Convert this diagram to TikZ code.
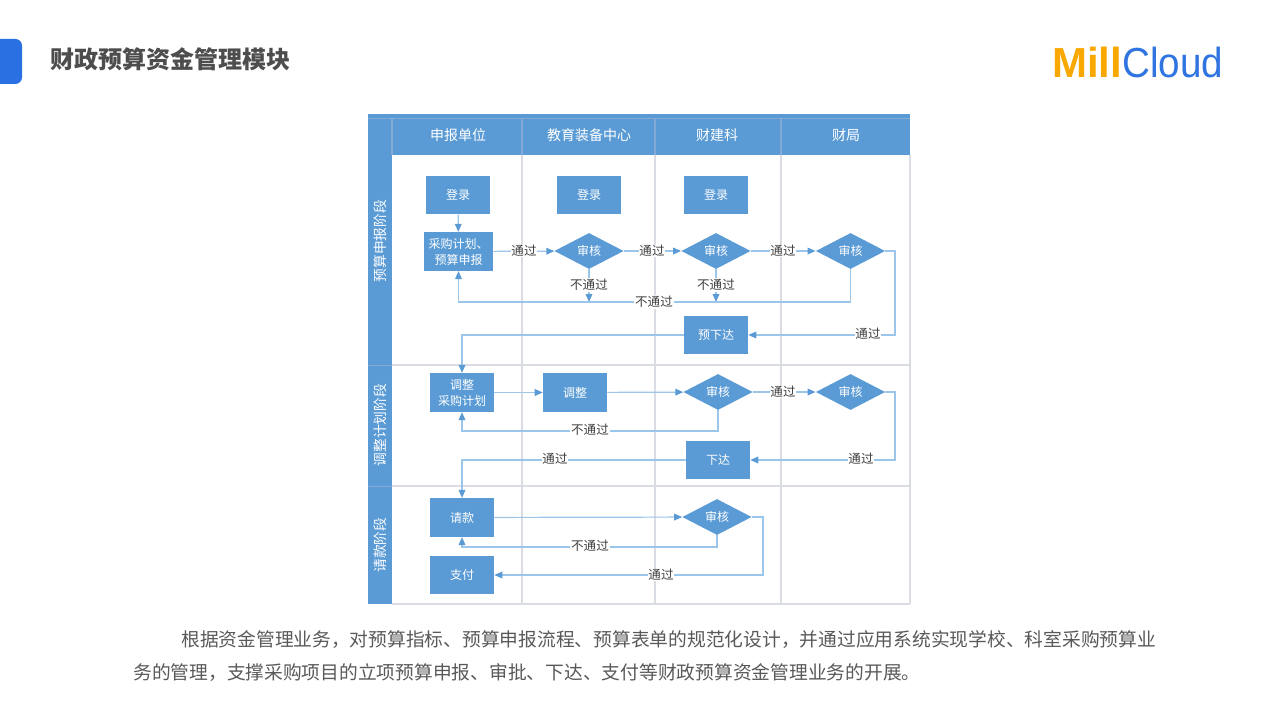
\documentclass[tikz,border=0pt]{standalone}
\usepackage{fontspec}
\setmainfont{Noto Sans CJK SC}
\newfontfamily\logofont{Liberation Sans}
\usetikzlibrary{arrows.meta,shapes.geometric}
\definecolor{mainblue}{HTML}{5B9BD5}
\definecolor{linkblue}{HTML}{9CC5EA}
\definecolor{gridgray}{HTML}{D9DDE3}
\definecolor{headsep}{HTML}{82AAD4}
\definecolor{tabblue}{HTML}{2A70E2}
\definecolor{titlegray}{HTML}{4D4D4D}
\definecolor{bodygray}{HTML}{595959}
\definecolor{logoorange}{HTML}{F8A800}
\definecolor{logoblue}{HTML}{2F74E0}
\tikzset{
  boxnode/.style={draw=none,fill=mainblue,text=white,minimum width=48pt,minimum height=29pt,inner sep=0pt,font=\fontsize{9pt}{12pt}\selectfont,align=center},
  dianode/.style={diamond,aspect=1.9,draw=none,fill=mainblue,text=white,minimum width=52pt,minimum height=27pt,inner sep=0pt,font=\fontsize{9pt}{11pt}\selectfont},
  flow/.style={draw=linkblue,line width=0.9pt,-{Triangle[length=6pt,width=5pt,color=mainblue]}},
  lab/.style={fill=white,text=black!75,inner sep=0.6pt,font=\fontsize{9.4pt}{11pt}\selectfont},
  head/.style={text=white,font=\fontsize{10.5pt}{12pt}\selectfont},
  rowhead/.style={text=white,rotate=90,font=\fontsize{10.3pt}{12pt}\selectfont},
  grid line/.style={draw=gridgray,line width=1.1pt},
  grid rule/.style={draw=gridgray,line width=0.8pt},
  body/.style={anchor=west,text=bodygray,inner sep=0pt,font=\fontsize{14.06pt}{18pt}\selectfont}
}
\begin{document}
\begin{tikzpicture}[x=0.75pt,y=-0.75pt]
\useasboundingbox (0,0) rectangle (1280,720);
\fill[white] (0,0) rectangle (1280,720);
% tab, title, logo
\fill[tabblue] (-10,39) [rounded corners=5pt] -- (-10,84) -- (22,84) -- (22,39) -- cycle;
\node[anchor=west,inner sep=0pt,text=titlegray,font=\fontsize{18pt}{22pt}\selectfont\bfseries] (title) at (50,59) {财政预算资金管理模块};
\node[anchor=west,inner sep=0pt,text=logoorange,font=\logofont\fontsize{31.5pt}{34pt}\selectfont\bfseries] (logoa) at (1052,62) {Mill};
\node[anchor=west,inner sep=0pt,text=logoblue,xscale=0.92,font=\logofont\fontsize{31.5pt}{34pt}\selectfont] (logob) at (1122,62) {Cloud};
% swimlane frame
\fill[mainblue] (392,114) rectangle (910,155);
\fill[mainblue] (368,114) rectangle (392,604);
\draw[headsep,line width=0.7pt] (368,118) -- (910,118);
\foreach \x in {392,522,655,781}{\draw[headsep,line width=0.8pt] (\x,118) -- (\x,155);}
\foreach \x in {522,655,781,910}{\draw[grid line] (\x,155) -- (\x,604);}
\draw[grid rule] (392,604) -- (910,604);
\draw[grid rule] (392,365) -- (910,365);
\draw[grid rule] (392,486) -- (910,486);
\draw[draw=headsep,line width=0.6pt] (368,365) -- (392,365) (368,486) -- (392,486);
% headers
\node[head] (h1) at (458,135) {申报单位};
\node[head] (h2) at (589,135) {教育装备中心};
\node[head] (h3) at (717,135) {财建科};
\node[head] (h4) at (846,135) {财局};
\node[rowhead] (r1) at (380,241) {预算申报阶段};
\node[rowhead] (r2) at (380,425) {调整计划阶段};
\node[rowhead] (r3) at (380,545) {请款阶段};
% nodes
\node[boxnode] (login1) at (458,195) {登录};
\node[boxnode,minimum width=52pt] (plan) at (458.5,251.5) {采购计划、\\预算申报};
\node[boxnode] (login2) at (589,195) {登录};
\node[boxnode] (login3) at (716,195) {登录};
\node[dianode] (rev1) at (589,251) {审核};
\node[dianode] (rev2) at (716,251) {审核};
\node[dianode] (rev3) at (850.5,251) {审核};
\node[boxnode] (pre) at (716,335) {预下达};
\node[boxnode] (adj1) at (462,392.5) {调整\\采购计划};
\node[boxnode] (adj2) at (575,392.5) {调整};
\node[dianode] (rev4) at (718,392) {审核};
\node[dianode] (rev5) at (850.5,392) {审核};
\node[boxnode] (issue) at (718,460) {下达};
\node[boxnode] (req) at (462,517.5) {请款};
\node[boxnode] (pay) at (462,575) {支付};
\node[dianode] (rev6) at (717,517) {审核};
% free corners
\coordinate (c1) at (895,293);
\coordinate (c2) at (895,425);
\coordinate (c3) at (763,546);
\coordinate (j1) at (589,302);
\coordinate (j2) at (716,302);
\coordinate (c4) at (600,431);
\coordinate (c5) at (600,547);
% connectors
\draw[flow] (login1) -- (plan);
\draw[flow] (plan) -- (rev1);
\draw[flow] (rev1) -- (rev2);
\draw[flow] (rev2) -- (rev3);
\draw[flow] (rev1) -- (j1);
\draw[flow] (rev2) -- (j2);
\draw[flow] (rev3.south) |- (j2) -- (j1) -| (plan.south);
\draw[flow] (rev3.east) -| (c1) |- (pre.east);
\draw[flow] (pre.west) -| (adj1.north);
\draw[flow] (adj1) -- (adj2);
\draw[flow] (adj2) -- (rev4);
\draw[flow] (rev4) -- (rev5);
\draw[flow] (rev4.south) |- (c4) -| (adj1.south);
\draw[flow] (rev5.east) -| (c2) |- (issue.east);
\draw[flow] (issue.west) -| (req.north);
\draw[flow] (req) -- (rev6);
\draw[flow] (rev6.south) |- (c5) -| (req.south);
\draw[flow] (rev6.east) -| (c3) |- (pay.east);
% connector labels
\node[lab] (l1) at (524,251) {通过};
\node[lab] (l2) at (589,285) {不通过};
\node[lab] (l3) at (652,251) {通过};
\node[lab] (l4) at (716,285) {不通过};
\node[lab] (l5) at (654,302) {不通过};
\node[lab] (l6) at (783,251) {通过};
\node[lab] (l7) at (868,334) {通过};
\node[lab] (l8) at (590,430) {不通过};
\node[lab] (l9) at (783,392) {通过};
\node[lab] (l10) at (861,459) {通过};
\node[lab] (l11) at (555,459) {通过};
\node[lab] (l12) at (590,546) {不通过};
\node[lab] (l13) at (661,575) {通过};
% body text
\node[body] (t1) at (181,640) {根据资金管理业务，对预算指标、预算申报流程、预算表单的规范化设计，并通过应用系统实现学校、科室采购预算业};
\node[body] (t2) at (133,673) {务的管理，支撑采购项目的立项预算申报、审批、下达、支付等财政预算资金管理业务的开展。};
\end{tikzpicture}
\end{document}
